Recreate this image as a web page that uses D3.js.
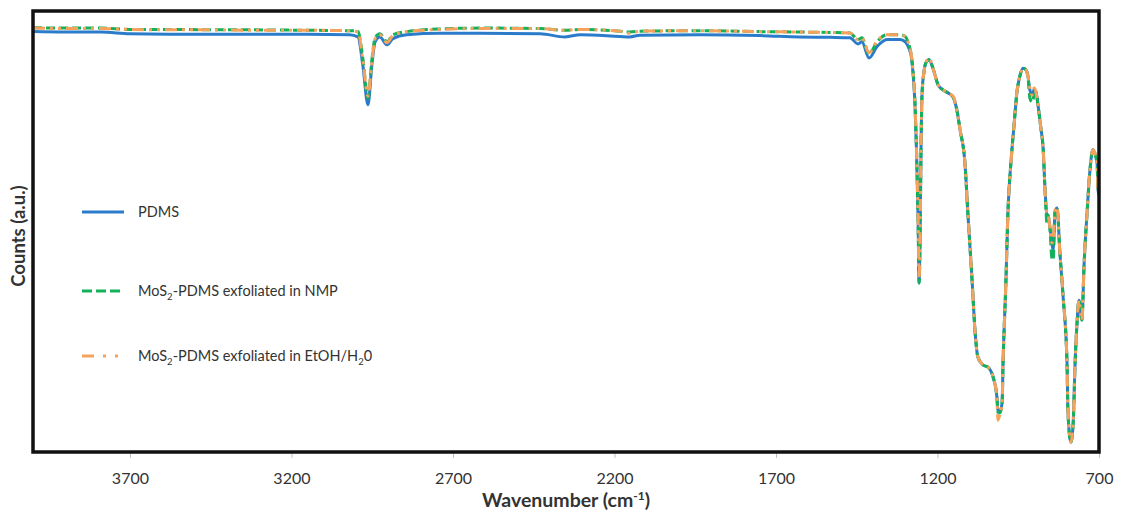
<!DOCTYPE html>
<html>
<head>
<meta charset="utf-8">
<script src="https://cdn.jsdelivr.net/npm/d3@7"></script>
<style>
  html, body { margin: 0; padding: 0; background: #ffffff; }
  svg { display: block; }
  text { font-family: Lato, "Open Sans", sans-serif; fill: #333333; }
</style>
</head>
<body>
<svg id="chart" width="1121" height="515"></svg>
<script>
// ---- data ----
const wavenumbers = [4000, 3900, 3790, 3700, 3580, 3450, 3330, 3150, 3020, 2994,
  2979, 2963, 2951, 2941, 2926, 2904, 2886, 2843, 2740, 2616,
  2430, 2353, 2306, 2183, 2152, 2121, 1935, 1750, 1626, 1533,
  1471, 1446, 1434, 1412, 1387, 1356, 1316, 1300, 1288, 1282,
  1276, 1270, 1265, 1260, 1257, 1254, 1251, 1248, 1242, 1236,
  1226, 1214, 1198, 1183, 1167, 1152, 1140, 1130, 1115, 1106,
  1093, 1084, 1075, 1059, 1044, 1028, 1016, 1013, 1007, 1000,
  997, 988, 982, 972, 963, 954, 945, 935, 926, 920,
  914, 907, 901, 895, 889, 880, 873, 867, 861, 858,
  852, 846, 842, 836, 830, 821, 811, 799, 796, 787,
  780, 774, 768, 762, 753, 746, 737, 728, 719, 706,
  703, 700];

const pdms = [95.1, 95.0, 95.0, 94.6, 94.5, 94.5, 94.5, 94.5, 94.4, 93.9,
  87.5, 78.5, 87.5, 92.8, 93.9, 92.1, 93.5, 94.4, 94.7, 94.7,
  94.6, 93.9, 94.4, 94.0, 93.9, 94.3, 94.4, 94.2, 93.9, 93.8,
  93.7, 92.3, 92.8, 89.1, 91.7, 93.3, 93.3, 92.8, 91.2, 89.8,
  85.9, 79.1, 68.3, 52.4, 38.1, 47.8, 68.3, 80.7, 85.9, 88.0,
  88.7, 86.8, 83.0, 81.9, 81.2, 80.3, 77.3, 72.8, 65.3, 54.0,
  38.8, 27.4, 21.3, 19.5, 19.0, 16.8, 12.2, 9.3, 8.8, 10.9,
  20.0, 38.8, 54.0, 66.0, 73.9, 81.4, 85.0, 86.8, 86.4, 85.0,
  81.9, 80.7, 81.9, 81.4, 78.5, 73.2, 68.7, 59.2, 53.5, 53.5,
  50.6, 47.2, 45.6, 54.2, 55.1, 44.9, 34.9, 20.0, 8.6, 2.0,
  6.3, 20.0, 29.0, 34.2, 29.7, 42.6, 54.0, 63.7, 68.3, 65.3,
  59.2, 58.0];

const mos2Nmp = [96.0, 95.9, 95.9, 95.6, 95.6, 95.5, 95.5, 95.4, 95.3, 95.2,
  89.1, 80.0, 88.7, 93.7, 94.6, 92.8, 94.4, 95.1, 95.7, 95.9,
  95.8, 95.4, 95.6, 95.2, 95.0, 95.2, 95.3, 95.1, 95.0, 94.9,
  94.8, 93.3, 93.7, 90.0, 92.8, 94.4, 94.4, 94.0, 92.0, 90.2,
  86.4, 79.6, 68.3, 52.4, 38.1, 47.8, 68.3, 80.7, 85.9, 88.0,
  88.7, 86.8, 83.0, 81.9, 81.2, 80.3, 77.3, 72.8, 65.3, 54.0,
  38.8, 27.4, 21.3, 19.5, 19.0, 16.8, 12.2, 8.8, 8.6, 10.9,
  20.0, 38.8, 54.0, 66.0, 73.9, 81.4, 85.0, 86.8, 86.4, 85.0,
  80.0, 79.1, 80.7, 81.4, 78.5, 73.2, 68.7, 59.2, 51.7, 53.5,
  50.6, 43.8, 43.3, 54.2, 55.1, 44.9, 34.9, 20.0, 8.6, 2.0,
  6.3, 20.0, 29.0, 34.2, 29.7, 42.6, 54.0, 63.7, 68.3, 65.3,
  59.2, 58.0];

const mos2EtOH = [95.9, 95.8, 95.8, 95.6, 95.5, 95.5, 95.4, 95.4, 95.3, 95.0,
  88.7, 80.5, 88.2, 93.5, 94.4, 92.6, 94.2, 95.1, 95.6, 95.8,
  95.8, 95.4, 95.6, 95.2, 94.7, 95.2, 95.3, 95.1, 95.0, 94.9,
  94.8, 93.3, 93.7, 90.3, 93.0, 94.4, 94.4, 94.0, 92.0, 90.2,
  86.4, 79.6, 68.3, 52.4, 39.2, 47.8, 68.3, 80.7, 85.9, 88.0,
  89.1, 86.8, 83.0, 81.9, 81.2, 80.5, 77.3, 72.8, 65.3, 54.0,
  38.8, 27.4, 21.3, 19.5, 19.0, 16.8, 12.2, 7.0, 8.2, 10.9,
  20.0, 38.8, 54.0, 66.0, 73.9, 81.4, 85.0, 86.8, 86.4, 85.0,
  82.3, 80.7, 82.3, 81.4, 78.5, 73.2, 68.7, 59.2, 53.5, 53.5,
  50.6, 47.2, 47.8, 54.6, 55.3, 44.9, 34.9, 20.0, 8.6, 2.0,
  6.3, 20.0, 29.0, 34.2, 29.7, 42.6, 54.0, 63.7, 68.3, 65.3,
  59.2, 58.0];

const xTicks = [3700, 3200, 2700, 2200, 1700, 1200, 700];
const seriesNames = ["PDMS", "MoS2-PDMS exfoliated in NMP", "MoS2-PDMS exfoliated in EtOH/H20"];

// ---- layout ----
const svg = d3.select("#chart");
const plot = { left: 33, top: 11, right: 1099, bottom: 452 };

const x = d3.scaleLinear().domain([4000, 700]).range([plot.left, plot.right]);
const y = d3.scaleLinear().domain([0, 100]).range([451, 10]);

const series = [
  { name: seriesNames[0], values: pdms, color: "#2B7BCB", dash: null },
  { name: seriesNames[1], values: mos2Nmp, color: "#12B15A", dash: "9,4" },
  { name: seriesNames[2], values: mos2EtOH, color: "#F7A25C", dash: "12,5,3,5,3,5" }
];

svg.append("defs").append("clipPath").attr("id", "clip")
  .append("rect")
  .attr("x", plot.left).attr("y", plot.top)
  .attr("width", plot.right - plot.left).attr("height", plot.bottom - plot.top);

// x axis (ticks + labels)
const xAxis = d3.axisBottom(x).tickValues(xTicks).tickSize(6).tickPadding(15)
  .tickFormat(d3.format("d"));
const gx = svg.append("g").attr("transform", `translate(0,${plot.bottom})`).call(xAxis);
gx.select(".domain").remove();
gx.selectAll(".tick line").attr("stroke", "#bfbfbf").attr("stroke-width", 1);
gx.selectAll(".tick text").attr("font-size", 16).attr("fill", "#3a3a3a")
  .style("font-family", "Lato, 'Open Sans', sans-serif");

// lines
const line = d3.line()
  .x((d, i) => x(wavenumbers[i]))
  .y(d => y(d))
  .curve(d3.curveMonotoneX);

const gLines = svg.append("g").attr("clip-path", "url(#clip)");
series.forEach(s => {
  gLines.append("path")
    .datum(s.values)
    .attr("d", line)
    .attr("fill", "none")
    .attr("stroke", s.color)
    .attr("stroke-width", 3)
    .attr("stroke-linejoin", "round")
    .attr("stroke-dasharray", s.dash);
});

// frame
svg.append("rect")
  .attr("x", plot.left).attr("y", plot.top)
  .attr("width", plot.right - plot.left).attr("height", plot.bottom - plot.top)
  .attr("fill", "none").attr("stroke", "#111111").attr("stroke-width", 3.5);

// legend
const legendY = [212, 291, 356];
const lg = svg.append("g");
series.forEach((s, i) => {
  lg.append("line")
    .attr("x1", 82).attr("x2", 124)
    .attr("y1", legendY[i]).attr("y2", legendY[i])
    .attr("stroke", s.color).attr("stroke-width", 3)
    .attr("stroke-dasharray", i === 1 ? "10,4" : (i === 2 ? "12,9,3,9,3,9" : null));
  const t = lg.append("text")
    .attr("x", 138).attr("y", legendY[i] + 5)
    .attr("font-size", 14.5).attr("fill", "#333");
  if (i === 0) {
    t.text("PDMS");
  } else {
    t.append("tspan").text("MoS");
    t.append("tspan").text("2").attr("font-size", 9.5).attr("dy", 4);
    const rest = i === 1 ? "-PDMS exfoliated in NMP" : "-PDMS exfoliated in EtOH/H";
    t.append("tspan").text(rest).attr("dy", -4);
    if (i === 2) {
      t.append("tspan").text("2").attr("font-size", 9.5).attr("dy", 4);
      t.append("tspan").text("0").attr("dy", -4);
    }
  }
});

// axis titles
const xt = svg.append("text")
  .attr("x", 566).attr("y", 507)
  .attr("text-anchor", "middle")
  .attr("font-size", 19.5).attr("font-weight", "bold").attr("fill", "#222");
xt.append("tspan").text("Wavenumber (cm");
xt.append("tspan").text("-1").attr("font-size", 12).attr("dy", -7);
xt.append("tspan").text(")").attr("dy", 7);

svg.append("text")
  .attr("transform", "translate(25,236) rotate(-90)")
  .attr("text-anchor", "middle")
  .attr("font-size", 18.5).attr("font-weight", "bold").attr("fill", "#222")
  .text("Counts (a.u.)");
</script>
</body>
</html>
